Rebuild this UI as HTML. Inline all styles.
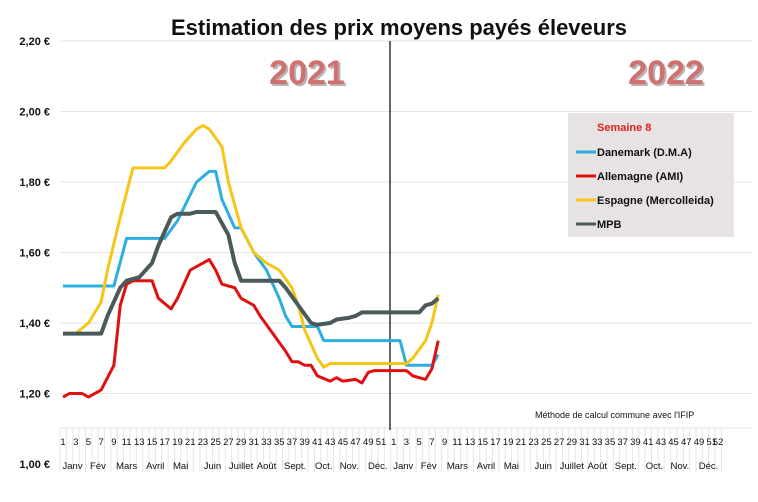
<!DOCTYPE html>
<html><head><meta charset="utf-8"><style>
body{margin:0;background:#fff;width:758px;height:497px;overflow:hidden;font-family:"Liberation Sans",sans-serif}
</style></head><body>
<svg id="s" width="758" height="497" xmlns="http://www.w3.org/2000/svg" font-family="Liberation Sans, sans-serif">
<text x="399" y="35" text-anchor="middle" font-size="22" font-weight="bold" fill="#111" textLength="456" lengthAdjust="spacingAndGlyphs">Estimation des prix moyens payés éleveurs</text>
<g id="grid"></g>
<line x1="390" y1="41" x2="390" y2="430" stroke="#000" stroke-width="1.2"/>
<text x="307" y="84" text-anchor="middle" font-size="34" font-weight="bold" fill="#3a2a2a" opacity="0.35" transform="translate(2,2)">2021</text>
<text x="307" y="84" text-anchor="middle" font-size="34" font-weight="bold" fill="#d07070">2021</text>
<text x="666" y="84" text-anchor="middle" font-size="34" font-weight="bold" fill="#3a2a2a" opacity="0.35" transform="translate(2,2)">2022</text>
<text x="666" y="84" text-anchor="middle" font-size="34" font-weight="bold" fill="#d07070">2022</text>
<g id="series"></g>
<rect x="568" y="113" width="166" height="124" fill="#e6e3e2"/>
<text x="597" y="131" font-size="11" font-weight="bold" fill="#e02020">Semaine 8</text>
<g font-size="11" font-weight="bold" fill="#111">
<line x1="576" y1="152" x2="596" y2="152" stroke="#2eaee0" stroke-width="3"/><text x="597" y="156">Danemark (D.M.A)</text>
<line x1="576" y1="176" x2="596" y2="176" stroke="#e01010" stroke-width="3"/><text x="597" y="180">Allemagne (AMI)</text>
<line x1="576" y1="200" x2="596" y2="200" stroke="#f5c518" stroke-width="3"/><text x="597" y="204">Espagne (Mercolleida)</text>
<line x1="576" y1="224" x2="596" y2="224" stroke="#4a5a5a" stroke-width="3"/><text x="597" y="228">MPB</text>
</g>
<text x="535" y="418" font-size="9" fill="#111">Méthode de calcul commune avec l'IFIP</text>
</svg>
<script>
const NS="http://www.w3.org/2000/svg";
const X=w=>63+(w-1)*6.36, Y=v=>464-(v-1)*352.5;
const g=document.getElementById('grid');
function el(t,a,p,txt){const e=document.createElementNS(NS,t);for(const k in a)e.setAttribute(k,a[k]);if(txt)e.textContent=txt;p.appendChild(e);return e;}
for(let i=1;i<=6;i++){const v=1+i*0.2;el('line',{x1:60,x2:752,y1:Y(v),y2:Y(v),stroke:'#e4e4e4'},g);}
for(let i=0;i<=6;i++){const v=1+i*0.2;el('text',{x:50,y:Y(v)+4,'text-anchor':'end','font-size':11,'font-weight':'bold',fill:'#111'},g,v.toFixed(2).replace('.',',')+' €');}
for(let w=1;w<=105;w++){el('line',{x1:X(w)-3,x2:X(w)-3,y1:428,y2:472,stroke:'#e6e6e6'},g);}
el('line',{x1:60,x2:752,y1:428,y2:428,stroke:'#e0e0e0'},g);
for(let w=1;w<=104;w+=2){const n=w>52?w-52:w;el('text',{x:X(w),y:445,'text-anchor':'middle','font-size':9.5,fill:'#111'},g,String(n));}
el('text',{x:X(104),y:445,'text-anchor':'middle','font-size':9.5,fill:'#111'},g,'52');
const months=[["Janv",2.5],["Fév",6.5],["Mars",11],["Avril",15.5],["Mai",19.5],["Juin",24.5],["Juillet",29],["Août",33],["Sept.",37.5],["Oct.",42],["Nov.",46],["Déc.",50.5]];
for(const o of [0,52])for(const [m,w] of months)el('text',{x:X(w+o),y:469,'text-anchor':'middle','font-size':9.5,fill:'#111'},g,m);
const S=[
["#2eaee0",[[1,1.505],[9,1.505],[11,1.64],[17,1.64],[19,1.69],[22,1.80],[24,1.83],[25,1.83],[26,1.75],[28,1.67],[29,1.67],[31,1.60],[33,1.55],[35,1.47],[36,1.42],[37,1.39],[41,1.39],[42,1.35],[54,1.35],[55,1.28],[59,1.28],[60,1.31]]],
["#e01010",[[1,1.19],[2,1.20],[4,1.20],[5,1.19],[7,1.21],[9,1.28],[10,1.45],[11,1.51],[12,1.52],[15,1.52],[16,1.47],[18,1.44],[19,1.47],[21,1.55],[24,1.58],[25,1.55],[26,1.51],[28,1.50],[29,1.47],[31,1.45],[32,1.42],[34,1.37],[36,1.32],[37,1.29],[38,1.29],[39,1.28],[40,1.28],[41,1.25],[43,1.235],[44,1.245],[45,1.235],[47,1.24],[48,1.23],[49,1.26],[50,1.265],[55,1.265],[56,1.25],[58,1.24],[59,1.27],[60,1.35]]],
["#f5c518",[[1,1.37],[3,1.37],[5,1.40],[7,1.46],[8,1.55],[10,1.70],[12,1.84],[17,1.84],[18,1.86],[20,1.91],[22,1.95],[23,1.96],[24,1.95],[26,1.90],[27,1.80],[29,1.67],[31,1.60],[33,1.57],[35,1.55],[37,1.50],[38,1.45],[39,1.38],[41,1.30],[42,1.275],[43,1.285],[55,1.285],[56,1.30],[58,1.35],[59,1.40],[60,1.48]]],
["#4a5a5a",[[1,1.37],[7,1.37],[8,1.42],[10,1.50],[11,1.52],[13,1.53],[15,1.57],[16,1.62],[18,1.70],[19,1.71],[21,1.71],[22,1.715],[25,1.715],[27,1.65],[28,1.57],[29,1.52],[35,1.52],[36,1.50],[38,1.45],[40,1.40],[41,1.395],[43,1.40],[44,1.41],[46,1.415],[47,1.42],[48,1.43],[57,1.43],[58,1.45],[59,1.455],[60,1.47]]]];
const sg=document.getElementById('series');
for(const [c,d] of S)el('polyline',{points:d.map(p=>X(p[0])+','+Y(p[1])).join(' '),fill:'none',stroke:c,'stroke-width':c=="#4a5a5a"?4:3,'stroke-linejoin':'round'},sg);
</script>
</body></html>
